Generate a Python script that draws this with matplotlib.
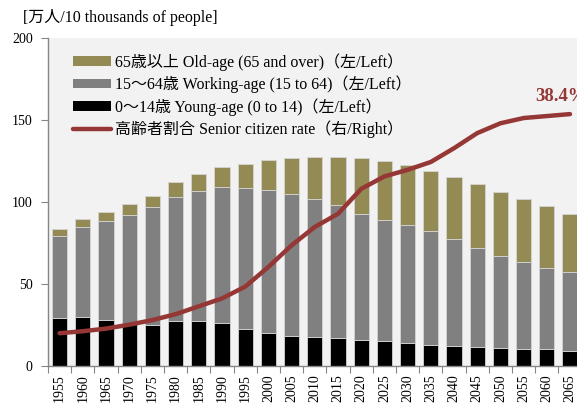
import matplotlib
matplotlib.use("Agg")
import matplotlib.pyplot as plt
from matplotlib.patches import Patch
from matplotlib.lines import Line2D
import numpy as np

plt.rcParams['font.family'] = ['Liberation Serif', 'Noto Sans CJK JP']

years = ["1955", "1960", "1965", "1970", "1975", "1980", "1985", "1990",
         "1995", "2000", "2005", "2010", "2015", "2020", "2025", "2030",
         "2035", "2040", "2045", "2050", "2055", "2060", "2065"]

# population by age group, 10 thousands of people
young = [29.5, 29.9, 28.1, 25.5, 25.2, 27.4, 27.6, 26.4, 22.8, 19.9, 18.3, 17.5,
         17.1, 15.9, 15.2, 14.0, 13.0, 12.4, 11.8, 11.2, 10.6, 10.2, 9.3]
working = [49.6, 54.7, 60.1, 66.8, 71.6, 75.6, 78.9, 82.5, 85.5, 87.2, 86.4, 84.1,
           80.9, 76.8, 74.0, 71.8, 69.1, 64.8, 59.9, 56.1, 53.0, 49.8, 48.2]
old = [4.3, 4.8, 5.7, 6.3, 6.9, 9.0, 10.6, 12.4, 15.1, 18.5, 22.1, 25.9,
       29.2, 34.1, 35.8, 36.6, 37.0, 38.0, 39.1, 39.0, 38.2, 37.4, 35.4]

# share of population aged 65 and over, %
senior_rate = [5.0, 5.3, 5.7, 6.3, 7.0, 7.9, 9.1, 10.3, 12.1, 15.1, 18.4, 21.2,
               23.2, 27.0, 28.9, 29.9, 31.1, 33.2, 35.5, 37.0, 37.8, 38.1, 38.4]

labels = ["65歳以上 Old-age (65 and over)（左/Left）",
          "15～64歳 Working-age (15 to 64)（左/Left）",
          "0～14歳 Young-age (0 to 14)（左/Left）",
          "高齢者割合 Senior citizen rate（右/Right）"]

c_old = "#948a54"
c_work = "#808080"
c_young = "#000000"
c_line = "#953735"
c_axis = "#868686"

W, H = 577, 403
fig = plt.figure(figsize=(W / 100, H / 100), dpi=100)
ax = fig.add_axes([48 / W, 37 / H, 533.6 / W, 328 / H])
ax.set_facecolor("#f2f2f2")

x = np.arange(len(years))
young_a = np.array(young)
work_a = np.array(working)
old_a = np.array(old)
bw = 0.65
ekw = dict(edgecolor="#d4d4d4", linewidth=0.6)
ax.bar(x, young_a, bw, color=c_young, **ekw)
ax.bar(x, work_a, bw, bottom=young_a, color=c_work, **ekw)
ax.bar(x, old_a, bw, bottom=young_a + work_a, color=c_old, **ekw)

ax.set_xlim(-0.5, len(years) - 0.5)
ax.set_ylim(0, 200)
ax.set_yticks([0, 50, 100, 150, 200])
ax.tick_params(axis="y", labelsize=10, length=5, width=0.8, color=c_axis, pad=6)
ax.set_xticks(x)
ax.set_xticklabels(years, rotation=90, fontsize=10)
ax.set_xticks(np.arange(-0.5, len(years), 1), minor=True)
ax.tick_params(axis="x", which="major", length=0, pad=6)
ax.tick_params(axis="x", which="minor", length=5, width=0.8, color=c_axis)
for s in ("top", "right"):
    ax.spines[s].set_visible(False)
for s in ("left", "bottom"):
    ax.spines[s].set_color(c_axis)
    ax.spines[s].set_linewidth(1.0)

ax2 = ax.twinx()
ax2.set_ylim(0, 50)
ax2.plot(x, senior_rate, color=c_line, linewidth=3.2, solid_capstyle="round",
         solid_joinstyle="round")
ax2.set_yticks([])
for s in ax2.spines.values():
    s.set_visible(False)
ax2.annotate(f"{senior_rate[-1]:.1f}%", xy=(x[-1], senior_rate[-1]),
             xytext=(-25, 13), textcoords="offset points",
             ha="left", va="center", fontsize=13.5, fontweight="bold",
             color=c_line)

handles = [Patch(facecolor=c_old, edgecolor="none"),
           Patch(facecolor=c_work, edgecolor="none"),
           Patch(facecolor=c_young, edgecolor="none"),
           Line2D([0], [0], color=c_line, linewidth=3.2, solid_capstyle="round")]
ax2.legend(handles, labels, loc="upper left",
           bbox_to_anchor=((73 - 48) / 533.6, (366 - 53) / 328),
           frameon=False, fontsize=11.5, borderpad=0, borderaxespad=0,
           handlelength=2.4, handleheight=0.56, handletextpad=0.25,
           labelspacing=0.3)

fig.text(23 / W, 1 - 17 / H, "[万人/10 thousands of people]", fontsize=11.5,
         va="center", ha="left")

fig.savefig("out.png", dpi=100)
